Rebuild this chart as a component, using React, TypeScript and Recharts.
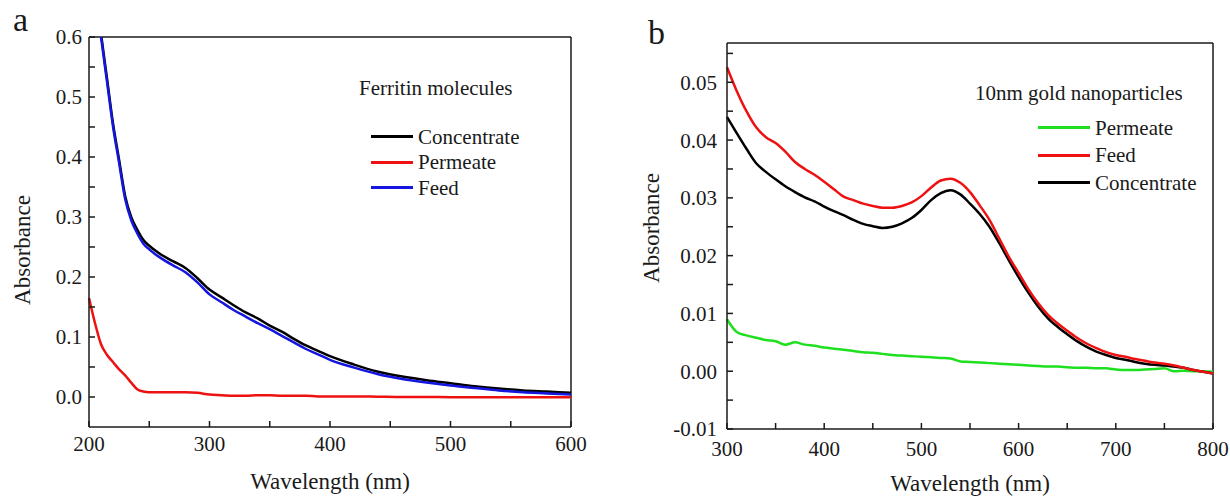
import { Legend, Line, LineChart, ReferenceLine, XAxis, YAxis } from 'recharts'

// panel a: ferritin molecules
const wavelengthsA = [200, 205, 210, 215, 220, 225, 230, 235, 240, 245, 250, 255, 260, 270, 280, 290, 300, 310, 320, 330, 340, 350, 360, 370, 380, 390, 400, 420, 440, 460, 480, 500, 520, 540, 560, 580, 600]
const concentrateA = [0.78, 0.69, 0.605, 0.53, 0.455, 0.395, 0.335, 0.3, 0.279, 0.262, 0.252, 0.244, 0.237, 0.226, 0.215, 0.198, 0.179, 0.166, 0.153, 0.141, 0.131, 0.119, 0.109, 0.097, 0.086, 0.077, 0.068, 0.054, 0.042, 0.034, 0.028, 0.023, 0.018, 0.014, 0.011, 0.009, 0.007]
const feedA = [0.78, 0.685, 0.6, 0.525, 0.45, 0.39, 0.33, 0.295, 0.273, 0.256, 0.246, 0.238, 0.231, 0.219, 0.208, 0.191, 0.171, 0.158, 0.145, 0.134, 0.123, 0.113, 0.102, 0.091, 0.08, 0.071, 0.062, 0.049, 0.038, 0.03, 0.024, 0.019, 0.015, 0.011, 0.008, 0.006, 0.004]
const permeateA = [0.165, 0.123, 0.088, 0.07, 0.058, 0.046, 0.036, 0.024, 0.013, 0.009, 0.008, 0.008, 0.008, 0.008, 0.008, 0.007, 0.004, 0.003, 0.002, 0.002, 0.003, 0.003, 0.002, 0.002, 0.002, 0.001, 0.001, 0.001, 0.0005, 0, 0, -0.0003, -0.0003, -0.0003, -0.0005, -0.0005, -0.0005]
const xTicksA = [200, 250, 300, 350, 400, 450, 500, 550, 600]
const yTicksA = [0, 0.05, 0.1, 0.15, 0.2, 0.25, 0.3, 0.35, 0.4, 0.45, 0.5, 0.55, 0.6]
const legendOrderA = ['Concentrate', 'Permeate', 'Feed']

// panel b: 10nm gold nanoparticles
const wavelengthsB = [300, 310, 320, 330, 340, 350, 360, 370, 380, 390, 400, 410, 420, 430, 440, 450, 460, 470, 480, 490, 500, 510, 520, 530, 540, 550, 560, 570, 580, 590, 600, 610, 620, 630, 640, 650, 660, 670, 680, 690, 700, 710, 720, 730, 740, 750, 760, 770, 780, 790, 800]
const feedB = [0.0526, 0.0485, 0.045, 0.0422, 0.0405, 0.0395, 0.038, 0.0362, 0.035, 0.034, 0.0328, 0.0315, 0.0302, 0.0296, 0.029, 0.0286, 0.0283, 0.0283, 0.0286, 0.0292, 0.0303, 0.0318, 0.033, 0.0333, 0.0326, 0.031, 0.0287, 0.0262, 0.023, 0.0198, 0.017, 0.0142, 0.0118, 0.0098, 0.0083, 0.007, 0.0058, 0.0048, 0.004, 0.0033, 0.0028, 0.0025, 0.0021, 0.0018, 0.0015, 0.0013, 0.001, 0.0006, 0.0002, -0.0001, -0.0004]
const concentrateB = [0.044, 0.0412, 0.0385, 0.036, 0.0345, 0.0332, 0.032, 0.031, 0.0301, 0.0294, 0.0285, 0.0277, 0.027, 0.0262, 0.0255, 0.0251, 0.0248, 0.025, 0.0256, 0.0265, 0.0279, 0.0296, 0.0308, 0.0313, 0.0306, 0.029, 0.0272, 0.025, 0.0222, 0.0192, 0.0163, 0.0136, 0.0112, 0.0092, 0.0077, 0.0064, 0.0052, 0.0042, 0.0034, 0.0028, 0.0023, 0.002, 0.0016, 0.0013, 0.0011, 0.001, 0.0008, 0.0006, 0.0002, -0.0001, -0.0004]
const permeateB = [0.009, 0.0068, 0.0062, 0.0058, 0.0054, 0.0052, 0.0046, 0.005, 0.0046, 0.0044, 0.0041, 0.0039, 0.0037, 0.0035, 0.0033, 0.0032, 0.003, 0.0028, 0.0027, 0.0026, 0.0025, 0.0024, 0.0023, 0.0022, 0.0017, 0.0016, 0.0015, 0.0014, 0.0013, 0.0012, 0.0011, 0.001, 0.0009, 0.0008, 0.0008, 0.0007, 0.0006, 0.0006, 0.0005, 0.0005, 0.0003, 0.0002, 0.0002, 0.0003, 0.0004, 0.0005, 0, 0.0001, 0, 0, -0.0001]
const xTicksB = [300, 350, 400, 450, 500, 550, 600, 650, 700, 750, 800]
const yTicksB = [-0.01, -0.005, 0, 0.005, 0.01, 0.015, 0.02, 0.025, 0.03, 0.035, 0.04, 0.045, 0.05, 0.055]
const yMaxB = 0.0568
const legendOrderB = ['Permeate', 'Feed', 'Concentrate']

const dataA = wavelengthsA.map((nm, i) => ({ nm, concentrate: concentrateA[i], feed: feedA[i], permeate: permeateA[i] }))
const dataB = wavelengthsB.map((nm, i) => ({ nm, concentrate: concentrateB[i], feed: feedB[i], permeate: permeateB[i] }))

const ink = '#1a1a1a'
const font = '"Liberation Serif", "Times New Roman", serif'
const tickStyle = { fill: ink, fontSize: 21, fontFamily: font }
const lineStyle = { stroke: ink, strokeWidth: 1.5 }

function makeLegend(title: string, order: string[], indent: number, swatch: number, gap: number, rowH: number) {
  return ({ payload }: any) => {
    const items = [...(payload || [])].sort((a: any, b: any) => order.indexOf(a.value) - order.indexOf(b.value))
    return (
      <div style={{ fontFamily: font, fontSize: 21, color: ink, lineHeight: '26px', whiteSpace: 'nowrap' }}>
        <div style={{ marginBottom: gap }}>{title}</div>
        {items.map((it: any) => (
          <div key={it.value} style={{ display: 'flex', alignItems: 'center', height: rowH }}>
            <span style={{ display: 'inline-block', width: swatch, height: 3, background: it.color, marginLeft: indent, marginRight: 5 }} />
            <span>{it.value}</span>
          </div>
        ))}
      </div>
    )
  }
}

function yTitle(dx: number, dy: number) {
  return ({ viewBox }: any) => {
    const x = viewBox.x + dx
    const y = viewBox.y + viewBox.height / 2 + dy
    return (
      <text x={x} y={y} transform={`rotate(-90, ${x}, ${y})`} textAnchor="middle" dominantBaseline="central"
        style={{ fontFamily: font, fontSize: 23, fill: ink }}>
        Absorbance
      </text>
    )
  }
}

function PanelA() {
  return (
    <LineChart width={600} height={496} data={dataA} margin={{ top: 37, right: 29, bottom: 7, left: 10 }}>
      <XAxis dataKey="nm" type="number" domain={[200, 600]} ticks={xTicksA} interval={0}
        tickFormatter={(v) => (v % 100 === 0 ? String(v) : '')} tick={tickStyle} tickSize={-6} tickMargin={15}
        axisLine={lineStyle} tickLine={lineStyle} height={62}
        label={{ value: 'Wavelength (nm)', position: 'insideBottom', offset: 0, style: { fontFamily: font, fontSize: 23, fill: ink } }} />
      <YAxis type="number" domain={[-0.05, 0.6]} allowDataOverflow ticks={yTicksA} interval={0}
        tickFormatter={(v) => (Math.round(v * 100) % 10 === 0 ? v.toFixed(1) : '')} tick={tickStyle} tickSize={-6} tickMargin={13}
        axisLine={lineStyle} tickLine={lineStyle} width={79} label={{ content: yTitle(12, 18) }} />
      <ReferenceLine y={0.6} stroke={ink} strokeWidth={1.5} />
      <ReferenceLine x={600} stroke={ink} strokeWidth={1.5} />
      <Line type="monotone" dataKey="permeate" name="Permeate" stroke="#ee1111" strokeWidth={2.5} dot={false} isAnimationActive={false} />
      <Line type="monotone" dataKey="concentrate" name="Concentrate" stroke="#000000" strokeWidth={2.5} dot={false} isAnimationActive={false} />
      <Line type="monotone" dataKey="feed" name="Feed" stroke="#1515e0" strokeWidth={2.5} dot={false} isAnimationActive={false} />
      <Legend layout="horizontal" verticalAlign="middle" align="center" wrapperStyle={{ left: 359, top: 75, width: 'auto' }}
        content={makeLegend('Ferritin molecules', legendOrderA, 12, 42, 23, 25.5)} />
    </LineChart>
  )
}

function PanelB() {
  return (
    <LineChart width={610} height={496} data={dataB} margin={{ top: 43, right: 17, bottom: 5, left: 10 }}>
      <XAxis dataKey="nm" type="number" domain={[300, 800]} ticks={xTicksB} interval={0}
        tickFormatter={(v) => (v % 100 === 0 ? String(v) : '')} tick={tickStyle} tickSize={-6} tickMargin={18}
        axisLine={lineStyle} tickLine={lineStyle} height={62}
        label={{ value: 'Wavelength (nm)', position: 'insideBottom', offset: 0, style: { fontFamily: font, fontSize: 23, fill: ink } }} />
      <YAxis type="number" domain={[-0.01, yMaxB]} allowDataOverflow ticks={yTicksB} interval={0}
        tickFormatter={(v) => (Math.round(v * 1000) % 10 === 0 ? v.toFixed(2) : '')} tick={tickStyle} tickSize={-6} tickMargin={16}
        axisLine={lineStyle} tickLine={lineStyle} width={97} label={{ content: yTitle(21, -8) }} />
      <ReferenceLine y={yMaxB} stroke={ink} strokeWidth={1.5} />
      <ReferenceLine x={800} stroke={ink} strokeWidth={1.5} />
      <Line type="monotone" dataKey="permeate" name="Permeate" stroke="#1fe01f" strokeWidth={2.5} dot={false} isAnimationActive={false} />
      <Line type="monotone" dataKey="concentrate" name="Concentrate" stroke="#000000" strokeWidth={2.5} dot={false} isAnimationActive={false} />
      <Line type="monotone" dataKey="feed" name="Feed" stroke="#ee1111" strokeWidth={2.5} dot={false} isAnimationActive={false} />
      <Legend layout="horizontal" verticalAlign="middle" align="center" wrapperStyle={{ left: 355, top: 80, width: 'auto' }}
        content={makeLegend('10nm gold nanoparticles', legendOrderB, 63, 52, 8, 27.5)} />
    </LineChart>
  )
}

export default function App() {
  return (
    <div style={{ position: 'absolute', left: 0, top: 0, width: 1230, height: 496, background: '#fff', fontFamily: font, color: ink }}>
      <div style={{ position: 'absolute', left: 0, top: 0 }}><PanelA /></div>
      <div style={{ position: 'absolute', left: 620, top: 0 }}><PanelB /></div>
      <span style={{ position: 'absolute', left: 13, top: 3, fontSize: 34, lineHeight: '34px' }}>a</span>
      <span style={{ position: 'absolute', left: 648, top: 16, fontSize: 34, lineHeight: '34px' }}>b</span>
    </div>
  )
}
